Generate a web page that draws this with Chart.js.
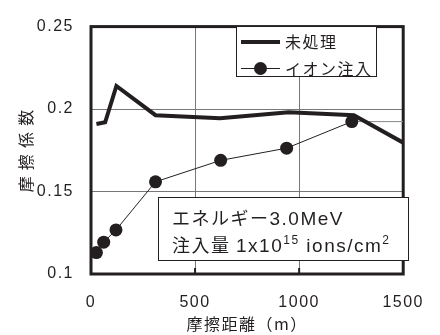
<!DOCTYPE html>
<html>
<head>
<meta charset="utf-8">
<script src="https://cdn.jsdelivr.net/npm/chart.js@4/dist/chart.umd.min.js"></script>
<style>
  body { margin: 0; background: #fff; }
</style>
</head>
<body>
<canvas id="c" width="440" height="335"></canvas>
<script>
// friction distance (m) vs friction coefficient
const untreatedX = [26, 68, 122, 310, 620, 950, 1263, 1500];
const untreatedY = [0.191, 0.192, 0.214, 0.1963, 0.1944, 0.198, 0.1963, 0.1796];
const ionX = [26, 61, 120, 310, 623, 940, 1253, 1500];
const ionY = [0.113, 0.1193, 0.1267, 0.1559, 0.1689, 0.1763, 0.1924, 0.1924];
const seriesNames = ["未処理", "イオン注入"];
const xTickLabels = ["0", "500", "1000", "1500"];
const yTickLabels = ["0.1", "0.15", "0.2", "0.25"];

const INK = "#231f20";
const JP = "'Noto Sans CJK JP', 'Noto Sans', sans-serif";
const NUM = "'Liberation Sans', Arial, sans-serif";

const toPts = (xs, ys) => xs.map((x, i) => ({ x: x, y: ys[i] }));

// 3px frame round the plot area + letter spacing like the print
const frame = {
  id: "frame",
  beforeDraw(chart) {
    chart.ctx.letterSpacing = "1.5px";
  },
  beforeDatasetsDraw(chart) {
    const a = chart.chartArea, ctx = chart.ctx;
    ctx.save();
    ctx.strokeStyle = INK;
    ctx.lineWidth = 3;
    ctx.strokeRect(a.left, a.top, a.right - a.left, a.bottom - a.top);
    // little inner tick marks on the bottom axis
    const xs = chart.scales.x;
    ctx.lineWidth = 2;
    [500, 1000].forEach(v => {
      const px = xs.getPixelForValue(v);
      ctx.beginPath();
      ctx.moveTo(px, a.bottom);
      ctx.lineTo(px, a.bottom - 6);
      ctx.stroke();
    });
    ctx.restore();
  },
  afterDraw(chart) {
    const ctx = chart.ctx;
    ctx.save();
    ctx.letterSpacing = "1.5px";
    // legend
    ctx.fillStyle = "#fff";
    ctx.fillRect(236, 26, 141, 51);
    ctx.strokeStyle = INK;
    ctx.lineWidth = 1;
    ctx.strokeRect(236.5, 26.5, 140, 50);
    ctx.lineWidth = 4;
    ctx.beginPath(); ctx.moveTo(241, 42); ctx.lineTo(280, 42); ctx.stroke();
    ctx.lineWidth = 1;
    ctx.beginPath(); ctx.moveTo(241, 68.5); ctx.lineTo(280, 68.5); ctx.stroke();
    ctx.fillStyle = INK;
    ctx.beginPath(); ctx.arc(260.5, 68.5, 6.5, 0, Math.PI * 2); ctx.fill();
    ctx.font = "16px " + JP;
    ctx.textBaseline = "middle";
    ctx.fillText(seriesNames[0], 285, 42);
    ctx.fillText(seriesNames[1], 285, 68.5);

    // condition box
    ctx.fillStyle = "#fff";
    ctx.fillRect(158, 197, 251, 64);
    ctx.strokeRect(158.5, 197.5, 250, 63);
    ctx.fillStyle = INK;
    ctx.textBaseline = "alphabetic";
    const runs1 = [["エネルギー", JP, 18, 0], ["3.0MeV", NUM, 19, 0]];
    const runs2 = [["注入量 ", JP, 18, 0], ["1x10", NUM, 19, 0], ["15", NUM, 12, -8],
                   [" ions/cm", NUM, 19, 0], ["2", NUM, 12, -8]];
    const drawRuns = (runs, x, y) => {
      runs.forEach(r => {
        ctx.font = r[2] + "px " + r[1];
        ctx.fillText(r[0], x, y + r[3]);
        x += ctx.measureText(r[0]).width;
      });
    };
    drawRuns(runs1, 172, 225);
    drawRuns(runs2, 172, 252);
    ctx.restore();
  }
};

new Chart(document.getElementById("c"), {
  type: "line",
  data: {
    datasets: [
      {
        label: seriesNames[0],
        data: toPts(untreatedX, untreatedY),
        borderColor: INK,
        borderWidth: 4,
        pointRadius: 0,
        tension: 0
      },
      {
        label: seriesNames[1],
        data: toPts(ionX, ionY),
        borderColor: INK,
        borderWidth: 1,
        backgroundColor: INK,
        pointRadius: ionX.map((x, i) => i === ionX.length - 1 ? 0 : 6.5),
        pointBorderWidth: 0,
        segment: {
          borderColor: c => c.p1DataIndex === ionX.length - 1 ? "#888" : INK
        },
        tension: 0
      }
    ]
  },
  options: {
    responsive: false,
    animation: false,
    devicePixelRatio: 1,
    layout: { padding: { left: 0, right: 21, top: 17, bottom: 0 } },
    plugins: { legend: { display: false }, tooltip: { enabled: false } },
    scales: {
      x: {
        type: "linear",
        min: 0, max: 1500,
        afterFit: s => { s.height = 61; },
        afterBuildTicks: s => { s.ticks = xTickLabels.map(t => ({ value: Number(t) })); },
        ticks: {
          padding: 19,
          color: INK,
          font: { family: NUM, size: 16 },
          callback: (v, i) => xTickLabels[i]
        },
        grid: {
          drawTicks: false,
          color: c => (c.tick && (c.tick.value === 0 || c.tick.value === 1500)) ? "rgba(0,0,0,0)" : "#777",
          lineWidth: 1
        },
        border: { display: false },
        title: {
          display: true,
          text: "摩擦距離（m）",
          color: INK,
          font: { family: JP, size: 16 },
          padding: { top: 0, bottom: 1 }
        }
      },
      y: {
        min: 0.1, max: 0.25,
        afterFit: s => { s.width = 91; },
        afterBuildTicks: s => { s.ticks = yTickLabels.map(t => ({ value: Number(t) })); },
        ticks: {
          padding: 17,
          color: INK,
          font: { family: NUM, size: 16 },
          callback: (v, i) => yTickLabels[i]
        },
        grid: {
          drawTicks: false,
          color: c => (c.tick && (c.tick.value === 0.1 || c.tick.value === 0.25)) ? "rgba(0,0,0,0)" : "#777",
          lineWidth: 1
        },
        border: { display: false },
        title: {
          display: true,
          text: "摩\u2009擦\u2009係\u2009数",
          color: INK,
          font: { family: JP, size: 16 },
          padding: { top: 16, bottom: 0 }
        }
      }
    }
  },
  plugins: [frame]
});
</script>
</body>
</html>
